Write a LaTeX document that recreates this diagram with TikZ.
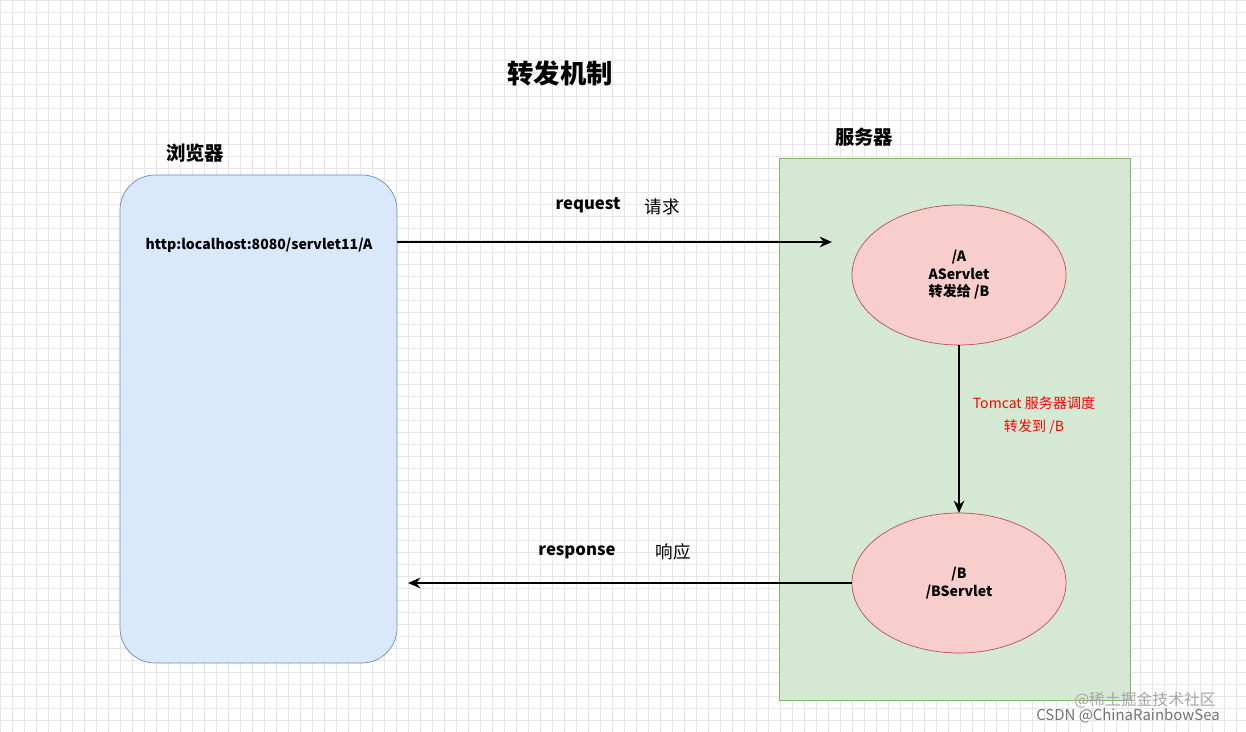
\documentclass[tikz,border=0pt]{standalone}
\usepackage{fontspec}
\setmainfont{Noto Sans CJK SC}
\usetikzlibrary{shapes.geometric,arrows.meta}
\definecolor{gridc}{HTML}{E6E6E6}
\definecolor{bfill}{HTML}{DAE8FC}\definecolor{bline}{HTML}{6C8EBF}
\definecolor{gfill}{HTML}{D5E8D4}\definecolor{gline}{HTML}{82B366}
\definecolor{rfill}{HTML}{F8CECC}\definecolor{rline}{HTML}{B85450}
\tikzset{
 ell/.style={ellipse,draw=rline,fill=rfill,minimum width=214*0.02cm,minimum height=140*0.02cm,align=center,font=\bfseries\fontsize{8}{10}\selectfont},
 arr/.style={-{Stealth[length=7pt,width=6pt]},line width=1.3pt},
 lbl/.style={font=\bfseries\fontsize{9.5}{11}\selectfont},
 cn/.style={font=\fontsize{10}{11}\selectfont}
}
\begin{document}
\begin{tikzpicture}[x=0.02cm,y=-0.02cm]
\useasboundingbox (0,0) rectangle (1246,732);
\fill[white] (0,0) rectangle (1246,732);
\foreach \i in {0,12,...,1246} \draw[gridc,line width=0.3pt] (\i,0)--(\i,732);
\foreach \j in {0,12,...,732} \draw[gridc,line width=0.3pt] (0,\j)--(1246,\j);
\node[font=\bfseries\fontsize{15}{18}\selectfont] (title) at (560,73) {转发机制};
\node[font=\bfseries\fontsize{11}{13}\selectfont] (bt) at (195,153) {浏览器};
\draw[bline,fill=bfill,rounded corners=20pt] (120,175) rectangle (397,663);
\node[font=\bfseries\fontsize{8}{10}\selectfont] (url) at (259,245) {http:localhost:8080/servlet11/A};
\node[font=\bfseries\fontsize{11}{13}\selectfont] (st) at (864,137) {服务器};
\draw[gline,fill=gfill] (779,158) rectangle (1130,700);
\node[ell] (A) at (959,275) {/A\\AServlet\\转发给 /B};
\node[ell] (B) at (959,583) {/B\\/BServlet};
\coordinate (rs) at (397,242); \coordinate (re) at (832,242);
\draw[arr] (rs)--(re);
\node[lbl] (rq) at (588,205) {request};
\node[cn] (rqc) at (662,207) {请求};
\coordinate (a1) at (959,345); \coordinate (b1) at (959,513);
\draw[arr] (a1)--(b1);
\node[red,align=center,font=\fontsize{8}{13}\selectfont] (tl) at (1034,415) {Tomcat 服务器调度\\转发到 /B};
\coordinate (ps) at (852,583); \coordinate (pe) at (408,583);
\draw[arr] (ps)--(pe);
\node[lbl] (rp) at (577,552) {response};
\node[cn] (rpc) at (673,552) {响应};
\node[gray!70,font=\fontsize{9}{10}\selectfont] (w1) at (1145,700) {@稀土掘金技术社区};
\node[gray!90!black,font=\fontsize{8.5}{10}\selectfont] (w2) at (1128,716) {CSDN @ChinaRainbowSea};
\end{tikzpicture}
\end{document}
